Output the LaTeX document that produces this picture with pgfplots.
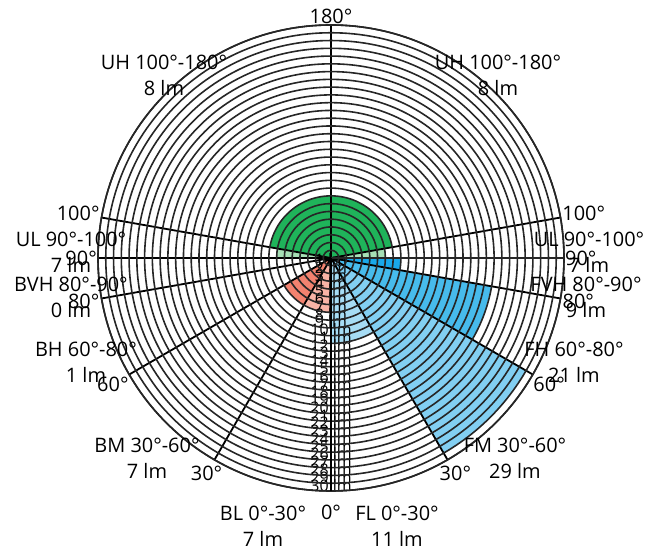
\documentclass[border=0pt]{standalone}
\usepackage{fontspec}
\setmainfont{Open Sans}
\usepackage{pgfplots}
\usepgfplotslibrary{polar}
\pgfplotsset{compat=1.18}

\definecolor{uhgreen}{HTML}{1FB35A}
\definecolor{ulgreen}{HTML}{A6DFB5}
\definecolor{bhred}{HTML}{C4301C}
\definecolor{bmred}{HTML}{F2826F}
\definecolor{blred}{HTML}{F8B3A6}
\definecolor{fvhblue}{HTML}{19A8EA}
\definecolor{fhblue}{HTML}{47BBEC}
\definecolor{fmblue}{HTML}{82CFF2}
\definecolor{flblue}{HTML}{A6DCF4}

\begin{document}
\begin{tikzpicture}[x=1bp,y=1bp]
  \begin{polaraxis}[
      width=466bp, height=466bp, scale only axis,
      xmin=0, xmax=360, ymin=0, ymax=30,
      xtick={0,10,90,170,180,190,210,240,300,330,350},
      xticklabels={90°,100°,180°,100°,90°,80°,60°,30°,30°,60°,80°},
      extra x ticks={270},
      extra x tick labels={0°},
      extra x tick style={xticklabel style={yshift=-13bp}},
      ytick={1,...,30},
      yticklabels={},
      xmajorgrids, ymajorgrids,
      major x grid style={black, line width=1.8bp},
      major y grid style={black!85, line width=1.6bp},
      axis line style={black!85, line width=1.6bp},
      xtick style={draw=none}, ytick style={draw=none},
      xticklabel style={font=\fontsize{20}{24}\selectfont, inner sep=1bp},
      axis on top,
    ]
    % UH 100-180, both sides: 8 lm
    \addplot[fill=uhgreen, draw=none, mark=none] coordinates {
        (10,0) (10,8) (20,8) (30,8) (40,8) (50,8) (60,8) (70,8) (80,8) (90,8)
        (100,8) (110,8) (120,8) (130,8) (140,8) (150,8) (160,8) (170,8) (170,0)
      };
    % UL 90-100: 7 lm
    \addplot[fill=ulgreen, draw=none, mark=none] coordinates {
        (0,0) (0,7) (10,7) (10,0)
      };
    \addplot[fill=ulgreen, draw=none, mark=none] coordinates {
        (170,0) (170,7) (180,7) (180,0)
      };
    % BH 60-80: 1 lm
    \addplot[fill=bhred, draw=none, mark=none] coordinates {
        (190,0) (190,1) (200,1) (210,1) (210,0)
      };
    % BM 30-60: 7 lm
    \addplot[fill=bmred, draw=none, mark=none] coordinates {
        (210,0) (210,7) (220,7) (230,7) (240,7) (240,0)
      };
    % BL 0-30: 7 lm
    \addplot[fill=blred, draw=none, mark=none] coordinates {
        (240,0) (240,7) (250,7) (260,7) (270,7) (270,0)
      };
    % FL 0-30: 11 lm
    \addplot[fill=flblue, draw=none, mark=none] coordinates {
        (270,0) (270,11) (280,11) (290,11) (300,11) (300,0)
      };
    % FM 30-60: 29 lm
    \addplot[fill=fmblue, draw=none, mark=none] coordinates {
        (300,0) (300,29) (305,29) (310,29) (315,29) (320,29) (325,29) (330,29) (330,0)
      };
    % FH 60-80: 21 lm
    \addplot[fill=fhblue, draw=none, mark=none] coordinates {
        (330,0) (330,21) (340,21) (350,21) (350,0)
      };
    % FVH 80-90: 9 lm
    \addplot[fill=fvhblue, draw=none, mark=none] coordinates {
        (350,0) (350,9) (355,9) (360,9) (360,0)
      };
    \pgfplotsinvokeforeach{1,...,30}{
      \node[font=\fontsize{16}{18}\selectfont, inner sep=0pt, anchor=base] at (axis cs:270,#1) {#1 lm};
    }
    \coordinate (O) at (axis cs:0,0);
  \end{polaraxis}

  \begin{scope}[every node/.style={align=center, font=\fontsize{20}{26}\selectfont}]
    \node at ([shift={(-167,182.5)}]O) {UH 100°-180°\\8 lm};
    \node at ([shift={(167,182.5)}]O) {UH 100°-180°\\8 lm};
    \node at ([shift={(-260,6)}]O) {UL 90°-100°\\7 lm};
    \node at ([shift={(258,6)}]O) {UL 90°-100°\\7 lm};
    \node at ([shift={(-260,-39)}]O) {BVH 80°-90°\\0 lm};
    \node at ([shift={(255,-39)}]O) {FVH 80°-90°\\9 lm};
    \node at ([shift={(-245,-104.5)}]O) {BH 60°-80°\\1 lm};
    \node at ([shift={(243,-104.5)}]O) {FH 60°-80°\\21 lm};
    \node at ([shift={(-184,-200.5)}]O) {BM 30°-60°\\7 lm};
    \node at ([shift={(184,-200.5)}]O) {FM 30°-60°\\29 lm};
    \node at ([shift={(-68,-268)}]O) {BL 0°-30°\\7 lm};
    \node at ([shift={(66,-268)}]O) {FL 0°-30°\\11 lm};
  \end{scope}

  \pgfresetboundingbox
  \path ([shift={(-331,-294)}]O) rectangle ([shift={(317,258)}]O);
\end{tikzpicture}
\end{document}
